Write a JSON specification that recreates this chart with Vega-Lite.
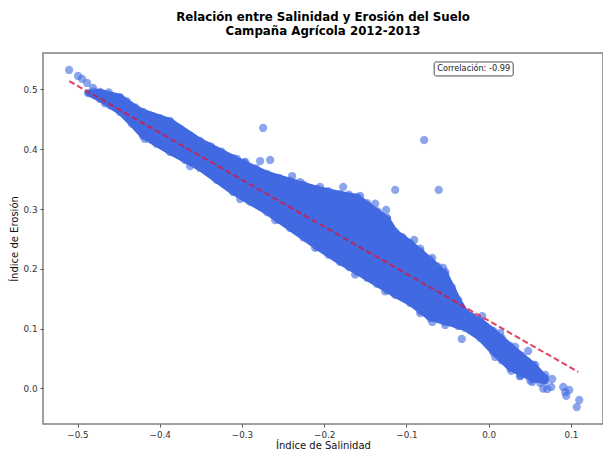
{
"$schema":"https://vega.github.io/schema/vega-lite/v6.json",
"width":560,"height":371,
"autosize":"none",
"padding":{"left":43,"top":53,"right":0,"bottom":26},
"background":"white",
"view":{"stroke":"#808080","strokeWidth":1.5,"fill":"white"},
"config":{"font":"DejaVu Sans"},
"title":{"text":["Relación entre Salinidad y Erosión del Suelo","Campaña Agrícola 2012-2013"],"font":"DejaVu Sans","fontSize":11.8,"fontWeight":"bold","color":"black","anchor":"middle","offset":15,"lineHeight":14},
"datasets":{
"banda":[
{"s":-0.4872,"u":0.4941,"l":0.4941},{"s":-0.4726,"u":0.4958,"l":0.4841},{"s":-0.4483,"u":0.4874,"l":0.4624},{"s":-0.4325,"u":0.4724,"l":0.4406},{"s":-0.4203,"u":0.4624,"l":0.4222},{"s":-0.3875,"u":0.4473,"l":0.3955},{"s":-0.351,"u":0.4139,"l":0.3687},{"s":-0.3108,"u":0.3854,"l":0.3286},{"s":-0.2695,"u":0.3587,"l":0.2951},{"s":-0.2415,"u":0.347,"l":0.2684},{"s":-0.2086,"u":0.3336,"l":0.2366},{"s":-0.1807,"u":0.3252,"l":0.2115},{"s":-0.16,"u":0.3202,"l":0.1948},{"s":-0.1235,"u":0.2834,"l":0.1647},{"s":-0.1137,"u":0.2617,"l":0.1564},{"s":-0.0955,"u":0.2433,"l":0.143},{"s":-0.0712,"u":0.2149,"l":0.1179},{"s":-0.0529,"u":0.1915,"l":0.1112},{"s":-0.0371,"u":0.148,"l":0.1045},{"s":-0.0286,"u":0.1279,"l":0.1012},{"s":-0.0103,"u":0.1129,"l":0.0844},{"s":0.0055,"u":0.0962,"l":0.061},{"s":0.0262,"u":0.0711,"l":0.0343},{"s":0.0541,"u":0.0393,"l":0.0159},{"s":0.0687,"u":0.0176,"l":0.0125}
],
"puntos":[
{"s":-0.5103,"e":0.5326},{"s":-0.4994,"e":0.5226},{"s":-0.4945,"e":0.5176},{"s":-0.4884,"e":0.5109},{"s":-0.4812,"e":0.5025},{"s":-0.4872,"e":0.4941},{"s":-0.2743,"e":0.4356},{"s":-0.278,"e":0.3804},{"s":-0.2658,"e":0.3821},{"s":-0.239,"e":0.3553},{"s":-0.177,"e":0.337},{"s":-0.1137,"e":0.332},{"s":-0.0785,"e":0.4155},{"s":-0.0608,"e":0.332},{"s":-0.1247,"e":0.2985},{"s":-0.1235,"e":0.2851},{"s":-0.0906,"e":0.2483},{"s":-0.0554,"e":0.2015},{"s":-0.0328,"e":0.0828},{"s":-0.0079,"e":0.1212},{"s":0.048,"e":0.0627},{"s":0.0274,"e":0.0293},{"s":0.0663,"e":-0.0001},{"s":0.0712,"e":-0.0012},{"s":0.076,"e":0.0025},{"s":0.0772,"e":0.0159},{"s":0.0906,"e":0.0025},{"s":0.0943,"e":-0.0125},{"s":0.0979,"e":-0.0025},{"s":0.0931,"e":-0.006},{"s":0.1101,"e":-0.0192},{"s":0.1071,"e":-0.0311},{"s":0.0627,"e":0.0193},{"s":0.0687,"e":0.0226},{"s":0.0529,"e":0.0109},{"s":0.0627,"e":0.0092},{"s":0.0584,"e":0.0284},{"s":0.0433,"e":0.0465},{"s":0.038,"e":0.0205},
{"s":-0.3972,"e":0.448},{"s":-0.306,"e":0.384},{"s":-0.2962,"e":0.379},{"s":-0.2293,"e":0.345},{"s":-0.205,"e":0.337},{"s":-0.1563,"e":0.322},{"s":-0.138,"e":0.309},{"s":-0.0833,"e":0.234},{"s":-0.0687,"e":0.2182},{"s":-0.0529,"e":0.1948},{"s":-0.0444,"e":0.1647},{"s":0.014,"e":0.093},{"s":0.0322,"e":0.0697},{"s":0.0566,"e":0.0393},
{"s":-0.4666,"e":0.4767},{"s":-0.4179,"e":0.4172},{"s":-0.3631,"e":0.372},{"s":-0.3023,"e":0.3169},{"s":-0.2597,"e":0.2814},{"s":-0.2111,"e":0.2353},{"s":-0.1624,"e":0.1904},{"s":-0.1259,"e":0.1624},{"s":-0.0833,"e":0.1259},{"s":-0.0687,"e":0.1112},{"s":-0.0529,"e":0.1062},{"s":-0.0225,"e":0.0978},{"s":0.0079,"e":0.0527},{"s":0.0383,"e":0.0216},{"s":0.0505,"e":0.0132},
{"s":-0.48,"e":0.497},{"s":-0.4726,"e":0.4958},{"s":-0.462,"e":0.495},{"s":-0.4483,"e":0.4874},{"s":-0.44,"e":0.48},{"s":-0.43,"e":0.47},{"s":-0.4203,"e":0.4624},{"s":-0.41,"e":0.456},{"s":-0.4,"e":0.452},{"s":-0.3875,"e":0.4473},{"s":-0.375,"e":0.434},{"s":-0.363,"e":0.423},{"s":-0.351,"e":0.4139},{"s":-0.338,"e":0.405},{"s":-0.325,"e":0.396},{"s":-0.3108,"e":0.3854},{"s":-0.297,"e":0.378},{"s":-0.283,"e":0.368},{"s":-0.2695,"e":0.3587},{"s":-0.255,"e":0.352},{"s":-0.2415,"e":0.347},{"s":-0.225,"e":0.341},{"s":-0.2086,"e":0.3336},{"s":-0.195,"e":0.33},{"s":-0.1807,"e":0.3252},{"s":-0.17,"e":0.324},{"s":-0.16,"e":0.3202},{"s":-0.148,"e":0.31},{"s":-0.135,"e":0.296},{"s":-0.1235,"e":0.2834},{"s":-0.1137,"e":0.2617},{"s":-0.105,"e":0.253},{"s":-0.0955,"e":0.2433},{"s":-0.083,"e":0.229},{"s":-0.0712,"e":0.2149},{"s":-0.062,"e":0.204},{"s":-0.0529,"e":0.1915},{"s":-0.045,"e":0.17},{"s":-0.0371,"e":0.148},{"s":-0.0286,"e":0.1279},{"s":-0.02,"e":0.12},{"s":-0.0103,"e":0.1129},{"s":0.0055,"e":0.0962},{"s":0.016,"e":0.084},{"s":0.0262,"e":0.0711},{"s":0.04,"e":0.055},{"s":0.0541,"e":0.0393},{"s":0.0687,"e":0.0176},
{"s":-0.4726,"e":0.4841},{"s":-0.46,"e":0.473},{"s":-0.4483,"e":0.4624},{"s":-0.434,"e":0.443},{"s":-0.4203,"e":0.4222},{"s":-0.404,"e":0.409},{"s":-0.3875,"e":0.3955},{"s":-0.369,"e":0.382},{"s":-0.351,"e":0.3687},{"s":-0.331,"e":0.349},{"s":-0.3108,"e":0.3286},{"s":-0.29,"e":0.312},{"s":-0.2695,"e":0.2951},{"s":-0.2555,"e":0.282},{"s":-0.2415,"e":0.2684},{"s":-0.225,"e":0.2525},{"s":-0.2086,"e":0.2366},{"s":-0.195,"e":0.224},{"s":-0.1807,"e":0.2115},{"s":-0.17,"e":0.203},{"s":-0.16,"e":0.1948},{"s":-0.148,"e":0.185},{"s":-0.136,"e":0.175},{"s":-0.1235,"e":0.1647},{"s":-0.1137,"e":0.1564},{"s":-0.0955,"e":0.143},{"s":-0.083,"e":0.13},{"s":-0.0712,"e":0.1179},{"s":-0.0529,"e":0.1112},{"s":-0.0371,"e":0.1045},{"s":-0.0286,"e":0.1012},{"s":-0.0103,"e":0.0844},{"s":0.0055,"e":0.061},{"s":0.016,"e":0.047},{"s":0.0262,"e":0.0343},{"s":0.04,"e":0.024},{"s":0.0541,"e":0.0159},{"s":0.0687,"e":0.0125}
],
"ajuste":[{"s":-0.51,"e":0.514},{"s":0.109,"e":0.0276}],
"nota":[{"x0":-0.0663,"x1":0.0298,"y0":0.5226,"y1":0.546,"xc":-0.0183,"yc":0.5343,"t":"Correlación: -0.99"}]
},
"data":{"name":"puntos"},
"layer":[
{"data":{"name":"banda"},"mark":{"type":"area","color":"#4169E1","opacity":1,"orient":"vertical","stroke":"#4169E1","strokeWidth":6,"strokeJoin":"round"},
 "encoding":{
  "x":{"field":"s","type":"quantitative","scale":{"domain":[-0.542,0.139],"nice":false,"zero":false},
   "axis":{"title":"Índice de Salinidad","values":[-0.5,-0.4,-0.3,-0.2,-0.1,0,0.1],"format":".1f","grid":false,"domain":false,"tickColor":"#555","tickSize":3,"labelFontSize":8.8,"labelColor":"#333","titleFontSize":10,"titleFontWeight":"normal","titleColor":"#111","labelPadding":3,"titlePadding":2}},
  "y":{"field":"u","type":"quantitative","scale":{"domain":[-0.0594,0.561],"nice":false,"zero":false},
   "axis":{"title":"Índice de Erosión","values":[0,0.1,0.2,0.3,0.4,0.5],"format":".1f","grid":false,"domain":false,"tickColor":"#555","tickSize":3,"labelFontSize":8.8,"labelColor":"#333","titleFontSize":10,"titleFontWeight":"normal","titleColor":"#111","labelPadding":3,"titlePadding":4}},
  "y2":{"field":"l"}
 }},
{"mark":{"type":"circle","color":"#4169E1","opacity":0.6,"size":68},
 "encoding":{"x":{"field":"s","type":"quantitative"},"y":{"field":"e","type":"quantitative"}}},
{"data":{"name":"ajuste"},"mark":{"type":"line","color":"#DC143C","strokeWidth":2,"strokeDash":[6,3],"opacity":0.8},
 "encoding":{"x":{"field":"s","type":"quantitative"},"y":{"field":"e","type":"quantitative"}}},
{"data":{"name":"nota"},"mark":{"type":"rect","fill":"white","stroke":"#222","strokeWidth":0.8,"cornerRadius":2},
 "encoding":{"x":{"field":"x0","type":"quantitative"},"x2":{"field":"x1"},"y":{"field":"y0","type":"quantitative"},"y2":{"field":"y1"}}},
{"data":{"name":"nota"},"mark":{"type":"text","fontSize":8.2,"color":"#222","font":"DejaVu Sans"},
 "encoding":{"x":{"field":"xc","type":"quantitative"},"y":{"field":"yc","type":"quantitative"},"text":{"field":"t"}}}
]
}
